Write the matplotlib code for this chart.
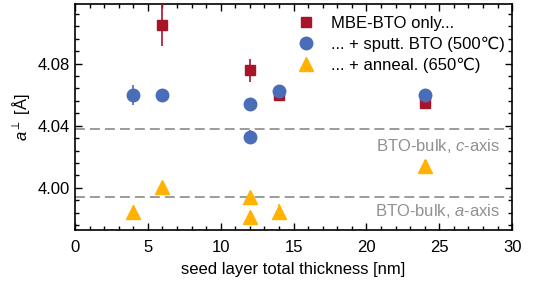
import matplotlib
matplotlib.use("Agg")
import matplotlib.pyplot as plt
from matplotlib.lines import Line2D
from matplotlib.ticker import MultipleLocator

plt.rcParams['font.family'] = ['Liberation Sans', 'DejaVu Sans']
plt.rcParams['mathtext.fontset'] = 'custom'
plt.rcParams['mathtext.it'] = 'Liberation Sans:italic'
plt.rcParams['mathtext.rm'] = 'Liberation Sans'

#data
mbe_x = [6, 12, 14, 24]
mbe_y = [4.105, 4.0757, 4.0595, 4.0548]
mbe_err = [0.0135, 0.0075, 0.002, 0.001]

sput_x = [4, 6, 12, 12, 14, 24]
sput_y = [4.0600, 4.0600, 4.0538, 4.0330, 4.0622, 4.0600]
sput_err = [0.0065, 0.0015, 0.002, 0.004, 0.002, 0.002]

ann_x = [4, 6, 12, 12, 14, 24]
ann_y = [3.9843, 4.0003, 3.9942, 3.9813, 3.9843, 4.0142]
ann_err = [0.004, 0.003, 0.003, 0.004, 0.005, 0.004]

c_bulk = 4.038
a_bulk = 3.994

red = '#a8142a'
blue = '#4a6db8'
yellow = '#ffb300'

fig = plt.figure(figsize=(5.41, 2.83), dpi=100)
ax = fig.add_axes([0.1386, 0.187, 0.808, 0.799])

ax.axhline(c_bulk, color='#808080', ls=(0, (6.5, 3.3)), lw=1.1, zorder=1)
ax.axhline(a_bulk, color='#808080', ls=(0, (6.5, 3.3)), lw=1.1, zorder=1)
ax.text(29.2, 4.027, 'BTO-bulk, $c$-axis', color='#909090', fontsize=12,
        ha='right', va='center')
ax.text(29.2, 3.985, 'BTO-bulk, $a$-axis', color='#909090', fontsize=12,
        ha='right', va='center')

ax.errorbar(mbe_x, mbe_y, yerr=mbe_err, fmt='s', color=red, ms=7.5,
            elinewidth=1.2, capsize=0, zorder=3)
ax.errorbar(sput_x, sput_y, yerr=sput_err, fmt='o', color=blue, ms=9,
            elinewidth=1.2, capsize=0, zorder=4)
ax.errorbar(ann_x, ann_y, yerr=ann_err, fmt='^', color=yellow, ms=9.5,
            elinewidth=1.2, capsize=0, zorder=4)

ax.set_xlim(0, 30)
ax.set_ylim(3.9727, 4.1185)
ax.xaxis.set_major_locator(MultipleLocator(5))
ax.xaxis.set_minor_locator(MultipleLocator(1))
ax.yaxis.set_major_locator(MultipleLocator(0.04))
ax.yaxis.set_minor_locator(MultipleLocator(0.008))
ax.tick_params(which='both', direction='in', top=True, right=True, labelsize=12)
ax.tick_params(which='major', length=5, width=1)
ax.tick_params(which='minor', length=3, width=1)
ax.tick_params(axis='x', pad=7)
for s in ax.spines.values():
    s.set_linewidth(1.2)

ax.set_xlabel('seed layer total thickness [nm]', fontsize=12, labelpad=5)
ax.set_ylabel(r'$a^{\perp}$ [Å]', fontsize=12, labelpad=4)

handles = [
    Line2D([], [], marker='s', color=red, ls='', ms=7.5),
    Line2D([], [], marker='o', color=blue, ls='', ms=9),
    Line2D([], [], marker='^', color=yellow, ls='', ms=9.5),
]
labels = ['MBE-BTO only...', '... + sputt. BTO (500\u2103)', '... + anneal. (650\u2103)']
ax.legend(handles, labels, loc='upper right', frameon=False, fontsize=12,
          handlelength=1.0, handletextpad=1.0, labelspacing=0.35,
          borderaxespad=0.3, bbox_to_anchor=(1.01, 1.0))

fig.savefig('out.png', dpi=100)
